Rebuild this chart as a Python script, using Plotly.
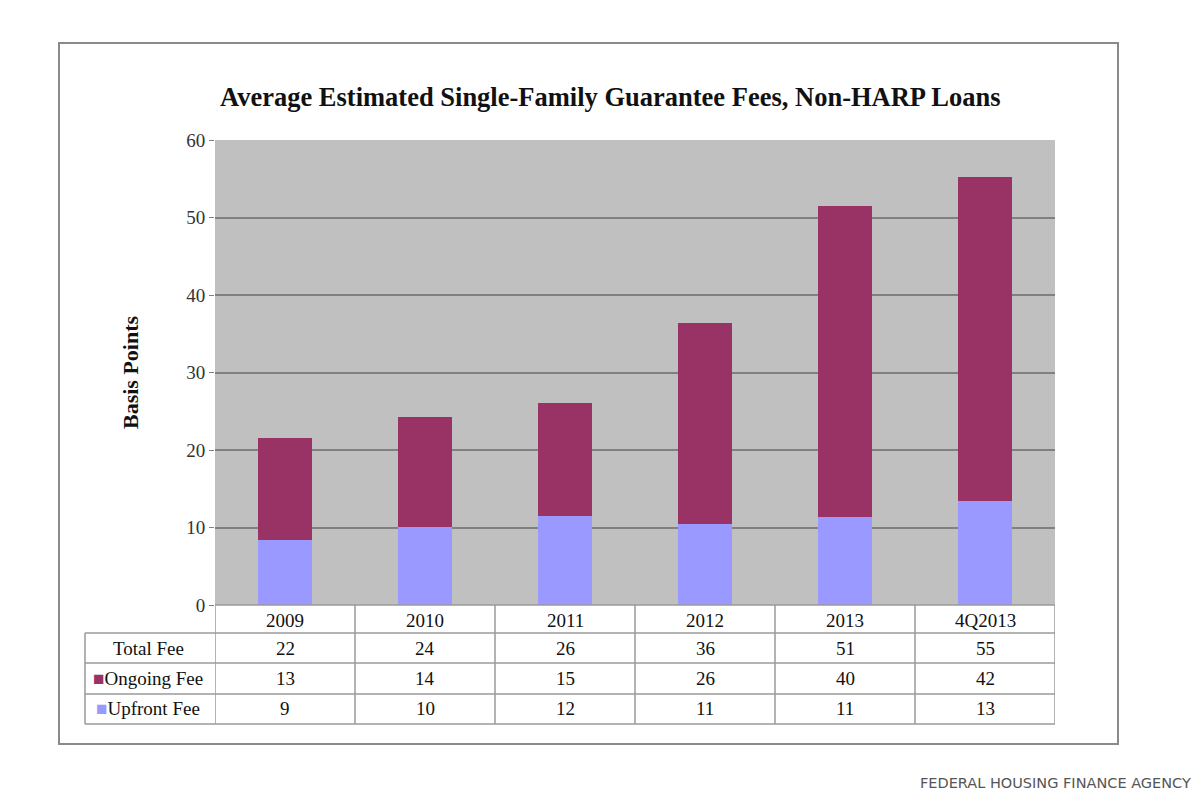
import plotly.graph_objects as go

categories = ["2009", "2010", "2011", "2012", "2013", "4Q2013"]
upfront_fee = [8.4, 10.1, 11.5, 10.5, 11.4, 13.4]
ongoing_fee = [13.1, 14.2, 14.6, 25.9, 40.1, 41.8]
table_total = ["22", "24", "26", "36", "51", "55"]
table_ongoing = ["13", "14", "15", "26", "40", "42"]
table_upfront = ["9", "10", "12", "11", "11", "13"]
row_labels = ["Total Fee", "Ongoing Fee", "Upfront Fee"]

C_ONGOING = "#993366"
C_UPFRONT = "#9999ff"
SERIF = "Liberation Serif"

fig = go.Figure()
fig.add_trace(go.Bar(x=list(range(len(categories))), y=upfront_fee, name="Upfront Fee",
                     marker=dict(color=C_UPFRONT, line=dict(width=0)), width=0.39))
fig.add_trace(go.Bar(x=list(range(len(categories))), y=ongoing_fee, name="Ongoing Fee",
                     marker=dict(color=C_ONGOING, line=dict(width=0)), width=0.39))

# paper helpers (plot area from y=605 px to y=140 px, 465 px tall; x from 215 to 1055)
def py(pix):
    return (605 - pix) / 465.0

def px(pix):
    return (pix - 215) / 840.0

shapes = []
line_col = "#9a9a9a"
# outer frame
shapes.append(dict(type="rect", xref="paper", yref="paper", x0=px(59), x1=px(1118),
                   y0=py(744), y1=py(43), line=dict(color="#8a8a8a", width=2), layer="below"))
n = len(categories)
# table horizontal lines
shapes.append(dict(type="line", xref="x", yref="paper", x0=-0.5, x1=n - 0.5,
                   y0=0, y1=0, line=dict(color=line_col, width=1.5)))
for ypix in [633, 663, 694, 724]:
    shapes.append(dict(type="line", xref="paper", yref="paper", x0=px(85), x1=1.0,
                       y0=py(ypix), y1=py(ypix), line=dict(color=line_col, width=1.5)))
# vertical lines of table
for i in range(n + 1):
    shapes.append(dict(type="line", xref="x", yref="paper", x0=i - 0.5, x1=i - 0.5,
                       y0=0, y1=py(724), line=dict(color=line_col, width=1.5)))
shapes.append(dict(type="line", xref="paper", yref="paper", x0=px(85), x1=px(85),
                   y0=py(633), y1=py(724), line=dict(color=line_col, width=1.5)))

annotations = []
tfont = dict(family=SERIF, size=19, color="#111111")
row_y = [py(620), py(648), py(678), py(708)]
for i, c in enumerate(categories):
    annotations.append(dict(x=i, y=row_y[0], xref="x", yref="paper", text=c,
                            showarrow=False, font=tfont, xanchor="center", yanchor="middle"))
for r, vals in enumerate([table_total, table_ongoing, table_upfront]):
    for i, v in enumerate(vals):
        annotations.append(dict(x=i, y=row_y[r + 1], xref="x", yref="paper", text=v,
                                showarrow=False, font=tfont, xanchor="center", yanchor="middle"))
label_texts = [
    row_labels[0],
    f"<span style='color:{C_ONGOING}'>■</span>{row_labels[1]}",
    f"<span style='color:{C_UPFRONT}'>■</span>{row_labels[2]}",
]
for r, t in enumerate(label_texts):
    annotations.append(dict(x=px(148), y=row_y[r + 1], xref="paper", yref="paper", text=t,
                            showarrow=False, font=tfont, xanchor="center", yanchor="middle"))

# title
annotations.append(dict(x=px(610), y=py(97), xref="paper", yref="paper",
                        text="<b>Average Estimated Single-Family Guarantee Fees, Non-HARP Loans</b>",
                        showarrow=False, xanchor="center", yanchor="middle",
                        font=dict(family=SERIF, size=26.5, color="#111111")))
# y-axis title
annotations.append(dict(x=px(130), y=py(372), xref="paper", yref="paper",
                        text="<b>Basis Points</b>", textangle=-90, showarrow=False,
                        xanchor="center", yanchor="middle",
                        font=dict(family=SERIF, size=22, color="#111111")))
# footer
annotations.append(dict(x=px(1193), y=py(783), xref="paper", yref="paper",
                        text="FEDERAL HOUSING FINANCE AGENCY", xanchor="right", yanchor="middle",
                        showarrow=False, font=dict(family="DejaVu Sans", size=14.5, color="#555555")))

fig.update_layout(
    width=1200, height=793,
    margin=dict(l=215, r=145, t=140, b=188, autoexpand=False),
    paper_bgcolor="white", plot_bgcolor="#c0c0c0",
    barmode="stack", showlegend=False,
    shapes=shapes, annotations=annotations,
    xaxis=dict(range=[-0.5, n - 0.5], showticklabels=False, showgrid=False,
               zeroline=False, ticks=""),
    yaxis=dict(range=[0, 60], dtick=10, showgrid=True, gridcolor="#808080", gridwidth=1.5,
               zeroline=False, ticks="outside", ticklen=5, tickcolor="#808080",
               tickfont=dict(family=SERIF, size=19, color="#333333")),
)

fig.write_html("out.html", config={"displayModeBar": False},
               post_script="document.body.style.margin='0';")
